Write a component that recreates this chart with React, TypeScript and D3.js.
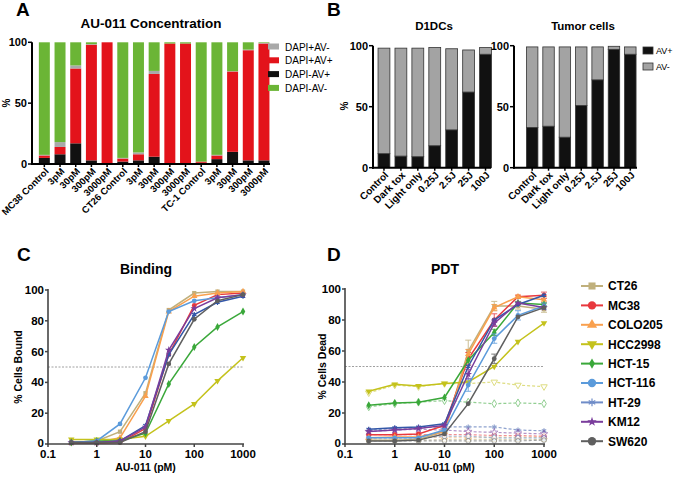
import React from "react";
import * as d3 from "d3";

// ---------- Panel A data ----------
const catsA = ["MC38 Control", "3pM", "30pM", "300pM", "3000pM", "CT26 Control", "3pM ", "30pM ", "300pM ", "3000pM ", "TC-1 Control", "3pM  ", "30pM  ", "300pM  ", "3000pM  "];
const dapiNegAvPos = [5, 8, 17, 3, 0.5, 2, 3, 6, 0.5, 0.5, 1, 4, 10, 3, 3];
const dapiPosAvPos = [2, 6, 61.5, 95, 99.5, 2.5, 5, 68, 98.5, 98.5, 1, 3, 66, 90.5, 96];
const dapiPosAvNeg = [0.5, 4, 2.5, 0.5, 0, 0.5, 1.5, 2.5, 0, 0, 0, 0.5, 0.3, 0.5, 0.5];
const dapiNegAvNeg = [92.5, 82, 19, 1.5, 0, 95, 90.5, 23.5, 1, 1, 98, 92.5, 23.7, 6, 0.5];
const ticksA = [0, 50, 100];

// ---------- Panel B data ----------
const catsB = ["Control", "Dark tox", "Light only", "0.25J", "2.5J", "25J", "100J"];
const dcAvPos = [11.5, 9.5, 9, 18, 31, 62, 93];
const dcAvNeg = [86.5, 88.5, 89, 80.5, 66.5, 34.5, 5.5];
const tumAvPos = [33, 34, 25, 51, 72, 97, 93];
const tumAvNeg = [66, 65, 74, 48, 27, 2.5, 6];

// ---------- Panels C/D data ----------
const doses = [0.3, 1, 3, 10, 30, 100, 300, 1000];
const xTicks = [0.1, 1, 10, 100, 1000];
const yTicks = [0, 20, 40, 60, 80, 100];
const cellLines = ["CT26", "MC38", "COLO205", "HCC2998", "HCT-15", "HCT-116", "HT-29", "KM12", "SW620"];
const lineColors = ["#c0b07c", "#e8383d", "#f9a04e", "#c4c21c", "#3aa83a", "#5b9bdb", "#3357a8", "#7a3d9c", "#5f5f5f"];
const legendColors = ["#c0b07c", "#e8383d", "#f9a04e", "#c4c21c", "#3aa83a", "#5b9bdb", "#6f8cc8", "#7a3d9c", "#5f5f5f"];

const bindCT26 = [1, 2, 8, 33, 87, 98, 99, 99];
const bindMC38 = [0.5, 0.5, 1, 10, 58, 90, 97, 98];
const bindCOLO205 = [0.5, 1, 4, 31, 86, 96, 98, 99];
const bindHCC2998 = [3, 3, 3, 5, 15, 26, 41, 56];
const bindHCT15 = [1, 2, 2, 7, 39, 63, 76, 86];
const bindHCT116 = [1, 2, 13, 43, 86, 93, 95, 97];
const bindHT29 = [1, 1, 2, 12, 58, 84, 92, 96];
const bindKM12 = [1, 1, 2, 11, 61, 88, 95, 97];
const bindSW620 = [1, 1, 1, 8, 52, 81, 93, 97];

const pdtCT26 = [2.5, 2.5, 3, 8, 60, 89, 89, 87];
const pdtMC38 = [6, 6, 6.5, 12, 55, 80, 95, 96];
const pdtCOLO205 = [4, 4.5, 4.5, 8, 58, 88, 95, 93];
const pdtHCC2998 = [34, 38.5, 37.5, 39, 40, 50, 66, 78];
const pdtHCT15 = [25, 26.5, 27, 30, 54, 72, 91, 90];
const pdtHCT116 = [4, 4, 4, 9, 38, 68, 83, 89];
const pdtHT29 = [9.5, 10.5, 11, 13, 50, 80, 90, 96];
const pdtKM12 = [8, 9, 10, 12, 45, 78, 91, 88];
const pdtSW620 = [2, 2, 2.5, 6.5, 26, 55, 82, 88];

// error bar half-widths (PDT)
const errCT26 = [0, 0, 0, 1, 7, 3, 2, 2];
const errMC38 = [0, 0, 0, 1, 4, 4, 1, 2];
const errCOLO205 = [0, 0, 0, 1, 3, 2, 1, 2];
const errHCC2998 = [0, 0, 0, 0, 0, 0, 0, 0];
const errHCT15 = [0, 0, 0, 0, 0, 2, 1, 1];
const errHCT116 = [0, 0, 0, 1, 4, 3, 3, 2];
const errHT29 = [0, 0, 0, 0, 0, 0, 0, 0];
const errKM12 = [0, 0, 0, 0, 3, 2, 0, 0];
const errSW620 = [0, 0, 0, 0, 0, 3, 0, 0];

const darkCT26 = [2.5, 2.5, 2.5, 3, 3, 3, 3, 3];
const darkMC38 = [6, 6, 6, 6, 6, 5.5, 5.5, 5];
const darkCOLO205 = [4, 4, 4, 4.5, 4.5, 4.5, 4.5, 4.5];
const darkHCC2998 = [33, 38, 37, 39, 39, 40, 38, 37];
const darkHCT15 = [24, 26, 27, 28, 27, 26, 26.5, 26];
const darkHCT116 = [4, 4, 4, 5, 5, 4, 4, 4];
const darkHT29 = [9, 10, 10.5, 11, 11, 11, 9, 8.5];
const darkKM12 = [8, 9, 9.5, 9, 8, 7.5, 7, 6.5];
const darkSW620 = [2, 2, 2, 2, 2, 2, 2, 2.5];

const bindAll = [bindCT26, bindMC38, bindCOLO205, bindHCC2998, bindHCT15, bindHCT116, bindHT29, bindKM12, bindSW620];
const pdtAll = [pdtCT26, pdtMC38, pdtCOLO205, pdtHCC2998, pdtHCT15, pdtHCT116, pdtHT29, pdtKM12, pdtSW620];
const errAll = [errCT26, errMC38, errCOLO205, errHCC2998, errHCT15, errHCT116, errHT29, errKM12, errSW620];
const darkAll = [darkCT26, darkMC38, darkCOLO205, darkHCC2998, darkHCT15, darkHCT116, darkHT29, darkKM12, darkSW620];
const symbols: any[] = [d3.symbolSquare, d3.symbolCircle, d3.symbolTriangle, "down", d3.symbolDiamond, d3.symbolCircle, d3.symbolAsterisk, d3.symbolStar, d3.symbolCircle];
const legendSizes = [50, 55, 45, 45, 30, 55, 40, 28, 55];

const FONT = "'Liberation Sans', Arial, Helvetica, sans-serif";

function Marker({ sym, x, y, size, color, open }: any) {
  const isDown = sym === "down";
  const type = isDown ? d3.symbolTriangle : sym;
  const path = d3.symbol().type(type).size(size)() as string;
  const stroke = sym === d3.symbolAsterisk;
  return (
    <path
      d={path}
      transform={`translate(${x},${y})${isDown ? " rotate(180)" : ""}`}
      fill={open || stroke ? (stroke ? "none" : "#fff") : color}
      stroke={color}
      strokeWidth={stroke ? 1.2 : open ? 1 : 0}
    />
  );
}

function StackedPanel({ cats, layers, colors, x0, x1, range, yTop, yBot, outline, labelSize }: any) {
  const x = d3.scaleBand().domain(cats).range(range).paddingInner(0.3).paddingOuter(0.15);
  const y = d3.scaleLinear().domain([0, 100]).range([yBot, yTop]);
  const rows = cats.map((c: string, i: number) => {
    const o: any = { cat: c };
    layers.forEach((l: number[], k: number) => (o["k" + k] = l[i]));
    return o;
  });
  const stack = d3.stack().keys(layers.map((_: any, k: number) => "k" + k))(rows);
  return (
    <g>
      {stack.map((s: any, k: number) =>
        s.map((d: any, i: number) => (
          <rect
            key={k + "-" + i}
            x={x(cats[i])}
            width={x.bandwidth()}
            y={y(d[1])}
            height={Math.max(0, y(d[0]) - y(d[1]))}
            fill={colors[k]}
            stroke={outline ? "#333" : "none"}
            strokeWidth={outline ? 0.8 : 0}
          />
        ))
      )}
      <line x1={x0} x2={x0} y1={yTop} y2={yBot + 1} stroke="#000" strokeWidth={2} />
      <line x1={x0 - 1} x2={x1} y1={yBot} y2={yBot} stroke="#000" strokeWidth={2} />
      {ticksA.map((t) => (
        <g key={t}>
          <line x1={x0 - 4} x2={x0} y1={y(t)} y2={y(t)} stroke="#000" strokeWidth={1.5} />
          <text x={x0 - 5} y={y(t) + 3.8} textAnchor="end" fontSize={11} fontWeight="bold">{t}</text>
        </g>
      ))}
      {cats.map((c: string) => (
        <g key={c}>
          <line x1={(x(c) as number) + x.bandwidth() / 2} x2={(x(c) as number) + x.bandwidth() / 2} y1={yBot} y2={yBot + 3} stroke="#000" strokeWidth={1.5} />
          <text
            transform={`translate(${(x(c) as number) + x.bandwidth() / 2 + 5},${yBot + 8}) rotate(-45)`}
            textAnchor="end"
            fontSize={labelSize}
            fontWeight="bold"
          >
            {c.trim()}
          </text>
        </g>
      ))}
    </g>
  );
}

function LinePanel({ data, dark, err, x0, x1, yTop, yBot, yLabel, labelX }: any) {
  const x = d3.scaleLog().domain([0.1, 1000]).range([x0, x1]);
  const y = d3.scaleLinear().domain([0, 100]).range([yBot, yTop]);
  const line = d3.line<number>().x((_, i) => x(doses[i])).y((v) => y(v));
  return (
    <g>
      <line x1={x0} x2={x1} y1={y(50)} y2={y(50)} stroke="#888" strokeWidth={0.8} strokeDasharray="2,1.5" />
      {dark &&
        dark.map((s: number[], k: number) => (
          <g key={"d" + k} opacity={0.55}>
            <path d={line(s) as string} fill="none" stroke={lineColors[k]} strokeWidth={1.2} strokeDasharray="3,2" />
            {s.map((v, i) => (
              <Marker key={i} sym={symbols[k]} x={x(doses[i])} y={y(v)} size={18} color={lineColors[k]} open />
            ))}
          </g>
        ))}
      {data.map((s: number[], k: number) => (
        <g key={"s" + k}>
          <path d={line(s) as string} fill="none" stroke={lineColors[k]} strokeWidth={1.5} />
          {err &&
            s.map((v, i) =>
              err[k][i] > 0 ? (
                <g key={"e" + i} stroke={lineColors[k]} strokeWidth={1} opacity={0.8}>
                  <line x1={x(doses[i])} x2={x(doses[i])} y1={y(v - err[k][i])} y2={y(v + err[k][i])} />
                  <line x1={x(doses[i]) - 3} x2={x(doses[i]) + 3} y1={y(v + err[k][i])} y2={y(v + err[k][i])} />
                  <line x1={x(doses[i]) - 3} x2={x(doses[i]) + 3} y1={y(v - err[k][i])} y2={y(v - err[k][i])} />
                </g>
              ) : null
            )}
          {s.map((v, i) => (
            <Marker key={i} sym={symbols[k]} x={x(doses[i])} y={y(v)} size={18} color={lineColors[k]} />
          ))}
        </g>
      ))}
      <line x1={x0} x2={x0} y1={yTop - 1} y2={yBot + 1} stroke="#444" strokeWidth={1.6} />
      <line x1={x0 - 1} x2={x1 + 1} y1={yBot} y2={yBot} stroke="#444" strokeWidth={1.6} />
      {yTicks.map((t) => (
        <g key={t}>
          <line x1={x0 - 3} x2={x0} y1={y(t)} y2={y(t)} stroke="#444" strokeWidth={1.5} />
          <text x={x0 - 4} y={y(t) + (t === 0 ? 3 : 4)} textAnchor="end" fontSize={11.5} fontWeight="bold">{t}</text>
        </g>
      ))}
      {xTicks.map((t) => (
        <g key={t}>
          <line x1={x(t)} x2={x(t)} y1={yBot} y2={yBot + 3} stroke="#444" strokeWidth={1.5} />
          <text x={x(t)} y={yBot + 14} textAnchor="middle" fontSize={11.5} fontWeight="bold">{t}</text>
        </g>
      ))}
      <text x={(x0 + x1) / 2} y={471} textAnchor="middle" fontSize={10.5} fontWeight="bold">AU-011 (pM)</text>
      <text transform={`translate(${labelX},${(yTop + yBot) / 2}) rotate(-90)`} textAnchor="middle" fontSize={10.5} fontWeight="bold">{yLabel}</text>
    </g>
  );
}

export default function App() {
  const colorsA = ["#111111", "#e3131b", "#a9a9a9", "#6bb536"];
  const legendA = [
    { label: "DAPI+AV-", color: "#a9a9a9" },
    { label: "DAPI+AV+", color: "#e3131b" },
    { label: "DAPI-AV+", color: "#111111" },
    { label: "DAPI-AV-", color: "#6bb536" },
  ];
  return (
    <svg width={676} height={477} style={{ position: "absolute", left: 0, top: 0, background: "#fff" }} fontFamily={FONT}>
      <rect width={676} height={477} fill="#fff" />
      {/* Panel letters */}
      <text x={16} y={16} fontSize={19} fontWeight="bold">A</text>
      <text x={327} y={16} fontSize={19} fontWeight="bold">B</text>
      <text x={17} y={261} fontSize={19} fontWeight="bold">C</text>
      <text x={327} y={261} fontSize={19} fontWeight="bold">D</text>

      {/* Panel A */}
      <text x={151} y={28} textAnchor="middle" fontSize={13.5} fontWeight="bold">AU-011 Concentration</text>
      <text transform="translate(10,103) rotate(-90)" textAnchor="middle" fontSize={10} fontWeight="bold">%</text>
      <StackedPanel
        cats={catsA}
        layers={[dapiNegAvPos, dapiPosAvPos, dapiPosAvNeg, dapiNegAvNeg]}
        colors={colorsA}
        x0={32}
        x1={270}
        range={[36.5, 271.8]}
        yTop={42.3}
        yBot={164}
        outline={false}
        labelSize={9.5}
      />
      {legendA.map((l, i) => (
        <g key={l.label}>
          <rect x={268} y={43.5 + i * 13.8} width={11} height={6} fill={l.color} />
          <text x={285} y={50.5 + i * 13.8} fontSize={10}>{l.label}</text>
        </g>
      ))}

      {/* Panel B */}
      <text x={434} y={30} textAnchor="middle" fontSize={11.5} fontWeight="bold">D1DCs</text>
      <text x={583} y={30} textAnchor="middle" fontSize={11.5} fontWeight="bold">Tumor cells</text>
      <text transform="translate(348,106) rotate(-90)" textAnchor="middle" fontSize={10} fontWeight="bold">%</text>
      <StackedPanel
        cats={catsB}
        layers={[dcAvPos, dcAvNeg]}
        colors={["#111111", "#a3a3a3"]}
        x0={373}
        x1={491}
        range={[375.5, 494]}
        yTop={45.7}
        yBot={167.7}
        outline={true}
        labelSize={10}
      />
      <StackedPanel
        cats={catsB}
        layers={[tumAvPos, tumAvNeg]}
        colors={["#111111", "#a3a3a3"]}
        x0={514}
        x1={637}
        range={[524, 638.5]}
        yTop={45.7}
        yBot={167.7}
        outline={true}
        labelSize={10}
      />
      <rect x={643} y={47} width={10} height={7} fill="#111" stroke="#333" strokeWidth={0.8} />
      <text x={656} y={54} fontSize={9}>AV+</text>
      <rect x={643} y={63} width={10} height={7} fill="#a3a3a3" stroke="#333" strokeWidth={0.8} />
      <text x={656} y={70} fontSize={9}>AV-</text>

      {/* Panel C */}
      <text x={146} y={274} textAnchor="middle" fontSize={14} fontWeight="bold">Binding</text>
      <LinePanel data={bindAll} x0={48} x1={243} yTop={290} yBot={444} yLabel="% Cells Bound" labelX={22} />

      {/* Panel D */}
      <text x={445} y={274} textAnchor="middle" fontSize={14} fontWeight="bold">PDT</text>
      <LinePanel data={pdtAll} dark={darkAll} err={errAll} x0={345} x1={544} yTop={289} yBot={444} yLabel="% Cells Dead" labelX={326} />

      {/* Legend D */}
      {cellLines.map((n, i) => {
        const yy = 286 + i * 19.4;
        return (
          <g key={n}>
            <line x1={581} x2={603} y1={yy} y2={yy} stroke={legendColors[i]} strokeWidth={2} />
            <Marker sym={symbols[i]} x={592} y={yy} size={legendSizes[i]} color={legendColors[i]} />
            <text x={608} y={yy + 4.3} fontSize={12} fontWeight="bold">{n}</text>
          </g>
        );
      })}
    </svg>
  );
}
